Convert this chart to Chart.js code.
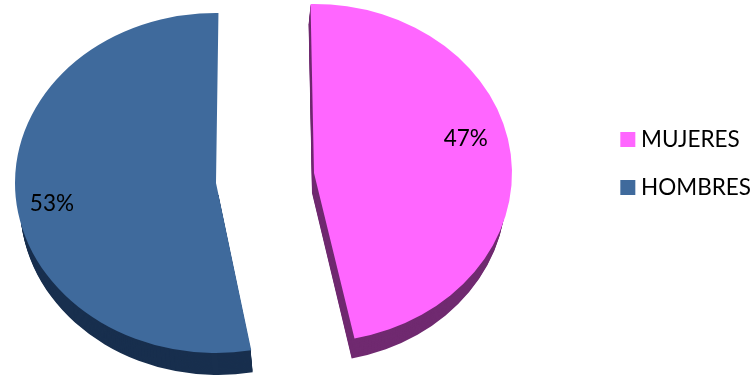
<!DOCTYPE html>
<html>
<head>
<meta charset="utf-8">
<style>
  html, body { margin: 0; padding: 0; background: #fff; }
  #wrap { position: relative; width: 756px; height: 375px; }
</style>
<script src="https://cdn.jsdelivr.net/npm/chart.js@4"></script>
</head>
<body>
<div id="wrap"><canvas id="chart" width="756" height="375"></canvas></div>
<script>
const categories = ['MUJERES', 'HOMBRES'];
const shares = [47, 53];
const faceColors = ['#FF66FF', '#3F6A9C'];
const sideColors = ['#702A70', '#182F4E'];

// Tilted, exploded presentation of each slice: where its apex sits, the
// ellipse radii, the extrusion depth and lean, how much narrower the wall
// is than the face, and the height above which no wall is painted.
const sliceViews = [
  { cx: 314, cy: 173, rx: 198, ry: 169, depth: 20, lean: -2, tilt: -1.0, wallInset: 4, wallFrom: 0 },
  { cx: 216, cy: 183, rx: 201, ry: 170, depth: 22, lean: 2, tilt: 0.7, wallInset: 3, wallFrom: 195 }
];
// Percent labels sit along each slice's mid-angle, nudged off the axis.
const labelViews = [
  { reach: 0.77, nudgeX: 0, nudgeY: -22 },
  { reach: 0.82, nudgeX: 0, nudgeY: 8 }
];
const BASE_RADIUS = 200;
const TEXT_FONT = 'Lato, Carlito, sans-serif';
const TEXT_SIZE = 22.5;

const tiltedPie = {
  id: 'tiltedPie',
  beforeDatasetDraw(chart, args) {
    const { ctx } = chart;
    const arcs = chart.getDatasetMeta(args.index).data;
    arcs.forEach((arc, i) => {
      const v = sliceViews[i];
      const place = (shiftX, shiftY, inset) => {
        ctx.translate(v.cx + shiftX, v.cy + shiftY);
        ctx.scale((v.rx - inset) / BASE_RADIUS, v.ry / BASE_RADIUS);
        ctx.rotate(v.tilt * Math.PI / 180);
        ctx.translate(-arc.x, -arc.y);
      };
      // Extruded wall: the same arc stacked downward in the darker colour.
      const wall = Object.create(arc);
      wall.options = Object.assign({}, arc.options, { backgroundColor: sideColors[i], borderWidth: 0 });
      ctx.save();
      ctx.beginPath();
      ctx.rect(0, v.wallFrom, chart.width, chart.height - v.wallFrom);
      ctx.clip();
      for (let d = v.depth; d > 0; d--) {
        ctx.save();
        place(v.lean * d / v.depth, d, v.wallInset);
        wall.draw(ctx);
        ctx.restore();
      }
      ctx.restore();
      ctx.save();
      place(0, 0, 0);
      arc.draw(ctx);
      ctx.restore();
    });
    return false;
  },
  afterDatasetsDraw(chart) {
    const { ctx } = chart;
    const arcs = chart.getDatasetMeta(0).data;
    ctx.save();
    ctx.font = TEXT_SIZE + 'px ' + TEXT_FONT;
    ctx.fillStyle = '#000';
    ctx.textAlign = 'center';
    ctx.textBaseline = 'middle';
    arcs.forEach((arc, i) => {
      const v = sliceViews[i];
      const l = labelViews[i];
      const mid = (arc.startAngle + arc.endAngle) / 2;
      const x = v.cx + Math.cos(mid) * v.rx * l.reach + l.nudgeX;
      const y = v.cy + Math.sin(mid) * v.ry * l.reach + l.nudgeY;
      ctx.fillText(shares[i] + '%', x, y);
    });
    ctx.restore();
  }
};

new Chart(document.getElementById('chart'), {
  type: 'pie',
  data: {
    labels: categories,
    datasets: [{ data: shares, backgroundColor: faceColors, borderWidth: 0 }]
  },
  options: {
    responsive: false,
    animation: false,
    radius: BASE_RADIUS,
    layout: { padding: { top: 0, right: -5, bottom: 48, left: 0 } },
    plugins: {
      tooltip: { enabled: false },
      legend: {
        position: 'right',
        labels: {
          usePointStyle: true,
          pointStyle: 'rect',
          boxWidth: 4,
          boxHeight: 15,
          padding: 25.5,
          color: '#000',
          font: { family: TEXT_FONT, size: TEXT_SIZE }
        }
      }
    }
  },
  plugins: [tiltedPie]
});
</script>
</body>
</html>
